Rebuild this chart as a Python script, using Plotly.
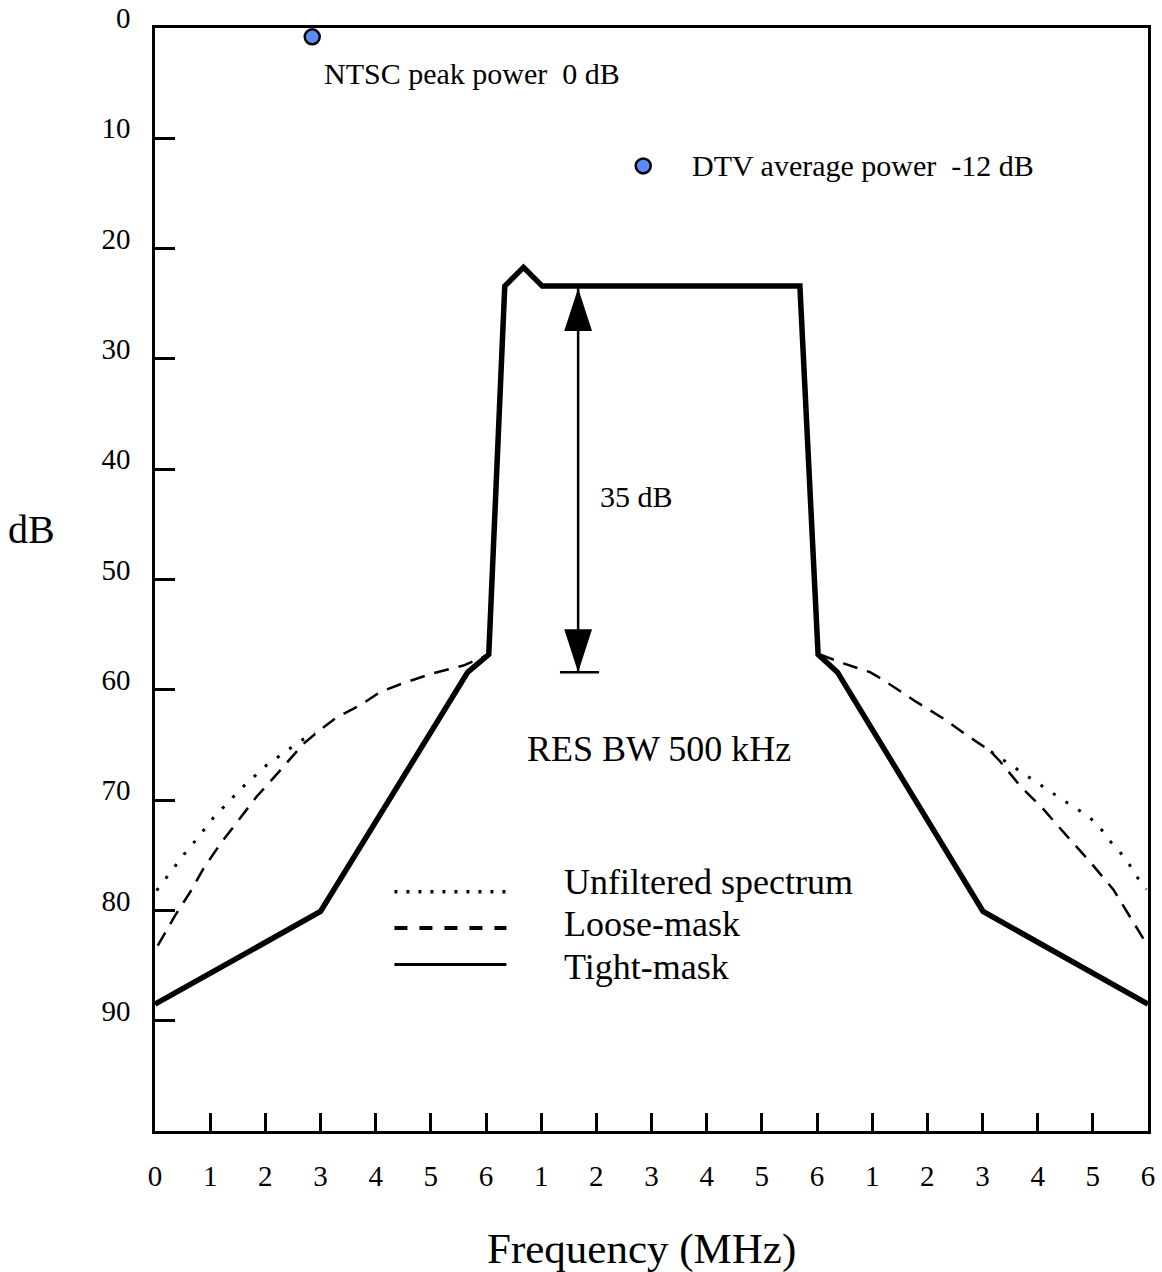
import plotly.graph_objects as go

# ---- data ----
tight_freq = [0.0, 3.0, 5.67, 6.05, 6.34, 6.68, 7.02, 11.69, 12.02, 12.37, 15.01, 18.0]
tight_db = [88.5, 80.1, 58.4, 56.8, 23.4, 21.7, 23.4, 23.4, 56.8, 58.4, 80.1, 88.5]

loose_freq_lower = [0.05, 0.36, 0.63, 0.88, 1.18, 1.51, 1.84, 2.27, 2.69, 2.95, 3.29, 3.72, 4.08, 4.50, 5.04, 5.59, 6.05]
loose_db_lower = [83.2, 80.5, 78.4, 76.2, 74.0, 71.8, 69.7, 67.3, 64.9, 63.8, 62.5, 61.4, 60.2, 59.4, 58.5, 57.8, 56.8]
loose_freq_upper = [12.05, 12.48, 12.96, 13.10, 13.38, 13.80, 14.29, 14.71, 15.13, 15.32, 15.68, 16.10, 16.52, 16.95, 17.37, 17.97]
loose_db_upper = [56.8, 57.6, 58.4, 58.8, 59.7, 61.1, 62.6, 64.1, 65.5, 66.5, 68.7, 70.8, 73.2, 75.6, 78.1, 83.0]

unfilt_freq_lower = [0.03, 0.21, 0.39, 0.56, 0.73, 0.91, 1.09, 1.31, 1.53, 1.75, 1.98, 2.20, 2.43, 2.65, 2.90]
unfilt_db_lower = [78.2, 77.0, 75.9, 74.7, 73.7, 72.6, 71.4, 70.3, 69.1, 68.1, 67.0, 66.2, 65.4, 64.6, 63.9]
unfilt_freq_upper = [15.15, 15.62, 16.04, 16.49, 16.93, 17.13, 17.31, 17.49, 17.67, 17.82, 17.97]
unfilt_db_upper = [65.6, 67.2, 68.6, 70.1, 71.5, 72.5, 73.7, 74.7, 75.9, 77.1, 78.1]

ref_freq = [2.85, 8.85]
ref_db = [0.8, 12.5]
ref_labels = ["NTSC peak power\u00a0\u00a00 dB", "DTV average power\u00a0\u00a0-12 dB"]

span_freq = 7.67
span_top_db = 23.6
span_bottom_db = 58.4
span_label = "35 dB"

x_tickvals = list(range(19))
x_ticktext = ["0", "1", "2", "3", "4", "5", "6",
              "1", "2", "3", "4", "5", "6",
              "1", "2", "3", "4", "5", "6"]
y_tickvals = [0, 10, 20, 30, 40, 50, 60, 70, 80, 90]
y_ticktext = [str(v) for v in y_tickvals]

legend_names = ["Unfiltered spectrum", "Loose-mask", "Tight-mask"]

FONT = "Liberation Serif, Times New Roman, Times, serif"
BLACK = "#000000"

fig = go.Figure()

# unfiltered spectrum (dotted)
fig.add_trace(go.Scatter(
    x=unfilt_freq_lower + [None] + unfilt_freq_upper,
    y=unfilt_db_lower + [None] + unfilt_db_upper,
    mode="lines", line=dict(color=BLACK, width=3, dash="3px,12px"),
    connectgaps=False, hoverinfo="skip", showlegend=False))

# loose mask (dashed)
fig.add_trace(go.Scatter(
    x=loose_freq_lower + [None] + loose_freq_upper,
    y=loose_db_lower + [None] + loose_db_upper,
    mode="lines", line=dict(color=BLACK, width=2.5, dash="15px,10px"),
    connectgaps=False, hoverinfo="skip", showlegend=False))

# tight mask (solid, thick)
fig.add_trace(go.Scatter(
    x=tight_freq, y=tight_db, mode="lines",
    line=dict(color=BLACK, width=5.5), hoverinfo="skip", showlegend=False))

# 35 dB span arrow
fig.add_trace(go.Scatter(
    x=[span_freq, span_freq], y=[span_top_db, span_bottom_db], mode="lines",
    line=dict(color=BLACK, width=2.5), hoverinfo="skip", showlegend=False))
fig.add_trace(go.Scatter(
    x=[span_freq - 0.33, span_freq + 0.38], y=[span_bottom_db, span_bottom_db], mode="lines",
    line=dict(color=BLACK, width=2.5), hoverinfo="skip", showlegend=False))
fig.add_trace(go.Scatter(
    x=[span_freq, span_freq], y=[span_top_db, span_bottom_db], mode="markers",
    marker=dict(symbol="arrow", size=45, angle=[0, 180], color=BLACK, line=dict(width=0)),
    hoverinfo="skip", showlegend=False, cliponaxis=False))

# reference power points
fig.add_trace(go.Scatter(
    x=ref_freq, y=ref_db, mode="markers",
    marker=dict(symbol="circle", size=15, color="#5B8DF6", line=dict(color=BLACK, width=2.5)),
    hoverinfo="skip", showlegend=False, cliponaxis=False))

annotations = []
# point labels
annotations.append(dict(x=3.03, y=4.1, xref="x", yref="y", text=ref_labels[0], showarrow=False,
                        xanchor="left", yanchor="middle", font=dict(family=FONT, size=30, color=BLACK)))
annotations.append(dict(x=9.70, y=12.5, xref="x", yref="y", text=ref_labels[1], showarrow=False,
                        xanchor="left", yanchor="middle", font=dict(family=FONT, size=30, color=BLACK)))
annotations.append(dict(x=8.03, y=42.5, xref="x", yref="y", text=span_label, showarrow=False,
                        xanchor="left", yanchor="middle", font=dict(family=FONT, size=30, color=BLACK)))
annotations.append(dict(x=9.14, y=65.4, xref="x", yref="y", text="RES BW 500 kHz", showarrow=False,
                        xanchor="center", yanchor="middle", font=dict(family=FONT, size=36, color=BLACK)))

# custom legend
legend_rows_db = [77.4, 81.2, 85.1]
legend_line_db = [78.3, 81.6, 84.9]
legend_dash = ["3px,9px", "13px,12px", "solid"]
legend_width = [3.5, 4, 3]
shapes = []
for name, ty, ly, dsh, w in zip(legend_names, legend_rows_db, legend_line_db, legend_dash, legend_width):
    shapes.append(dict(type="line", xref="x", yref="y", x0=4.34, x1=6.37, y0=ly, y1=ly,
                       line=dict(color=BLACK, width=w, dash=dsh)))
    annotations.append(dict(x=7.37, y=ty, xref="x", yref="y", text=name, showarrow=False,
                            xanchor="left", yanchor="middle", font=dict(family=FONT, size=36, color=BLACK)))

# axis titles
annotations.append(dict(x=-0.1244, y=0.545, xref="paper", yref="paper", text="dB", showarrow=False,
                        xanchor="center", yanchor="middle", font=dict(family=FONT, size=40, color=BLACK)))
annotations.append(dict(x=0.49, y=-0.107, xref="paper", yref="paper", text="Frequency (MHz)", showarrow=False,
                        xanchor="center", yanchor="middle", font=dict(family=FONT, size=43, color=BLACK)))

fig.update_layout(
    width=1162, height=1272,
    margin=dict(l=155, r=14, t=28, b=141, autoexpand=False),
    paper_bgcolor="white", plot_bgcolor="white",
    font=dict(family=FONT, color=BLACK),
    shapes=shapes, annotations=annotations,
    showlegend=False,
)
fig.update_xaxes(
    range=[0, 18], tickvals=x_tickvals, ticktext=x_ticktext,
    ticks="inside", ticklen=18, tickwidth=2.5, tickcolor=BLACK,
    showline=True, linecolor=BLACK, linewidth=2.5, mirror=True,
    showgrid=False, zeroline=False, automargin=False,
    tickfont=dict(family=FONT, size=29, color=BLACK), ticklabelstandoff=17,
)
fig.update_yaxes(
    range=[100, 0], tickvals=y_tickvals, ticktext=y_ticktext,
    ticks="inside", ticklen=20, tickwidth=2.5, tickcolor=BLACK,
    showline=True, linecolor=BLACK, linewidth=2.5, mirror=True,
    showgrid=False, zeroline=False, automargin=False,
    tickfont=dict(family=FONT, size=29, color=BLACK), ticklabelstandoff=16, ticklabelshift=10,
)

fig.write_html("out.html")
